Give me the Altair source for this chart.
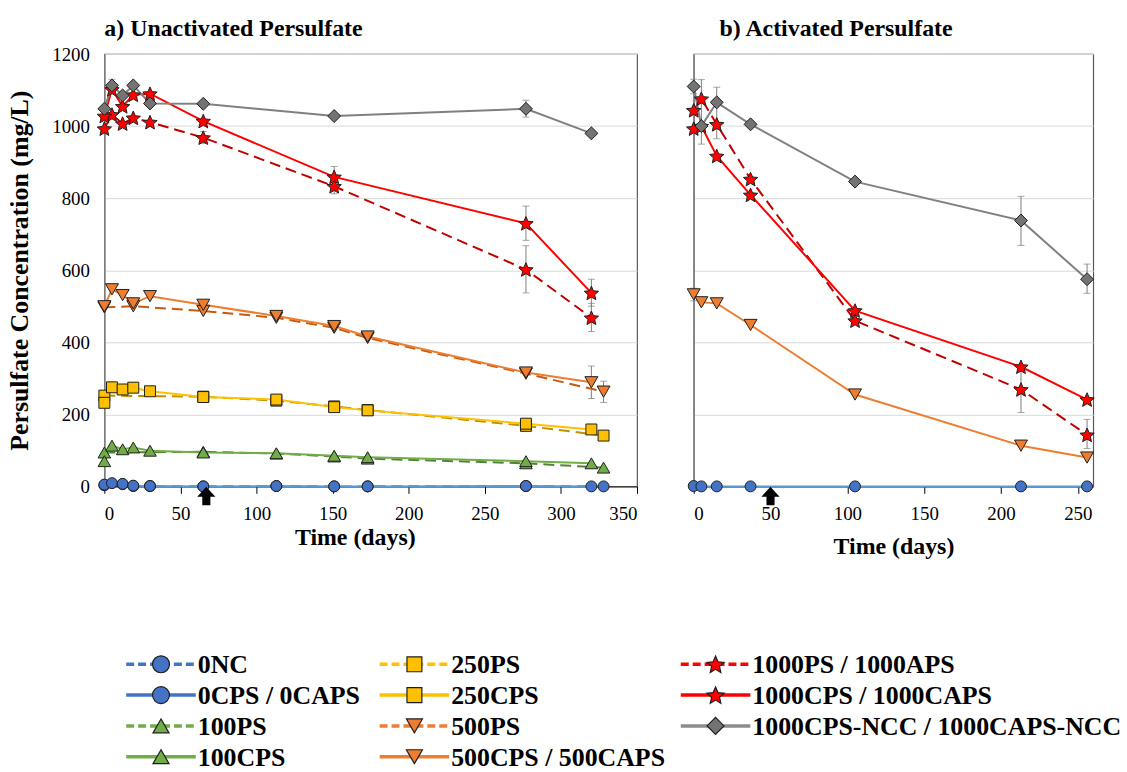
import math
import altair as alt
import pandas as pd

SERIF = "Liberation Serif"

# ---------------------------------------------------------------------------
# Panel a - unactivated persulfate: concentration (mg/L) vs time (days)
# ---------------------------------------------------------------------------
A_0NC_DAYS = [0, 12, 19, 30, 65, 113, 151, 173, 277, 328]
A_0NC_MGL = [3, 6, 1, 1, 0, 1, 0, 0, 1, 0]
A_0CPS_DAYS = [0, 5, 12, 19, 30, 65, 113, 151, 173, 277, 320]
A_0CPS_MGL = [5, 9, 7, 2, 1, 0, 1, 0, 0, 1, 0]

A_100PS_DAYS = [0, 65, 113, 151, 173, 277, 328]
A_100PS_MGL = [94, 96, 91, 83, 77, 64, 52]
A_100CPS_DAYS = [0, 5, 12, 19, 30, 65, 113, 151, 173, 277, 320]
A_100CPS_MGL = [70, 113, 103, 108, 99, 94, 92, 85, 81, 70, 64]

A_250PS_DAYS = [0, 65, 113, 151, 173, 277, 328]
A_250PS_MGL = [252, 249, 238, 222, 212, 168, 141]
A_250CPS_DAYS = [0, 5, 12, 19, 30, 65, 113, 151, 173, 277, 320]
A_250CPS_MGL = [232, 275, 269, 274, 264, 248, 241, 220, 211, 174, 158]

A_500PS_DAYS = [0, 19, 65, 113, 151, 173, 277, 328]
A_500PS_MGL = [497, 500, 487, 468, 440, 412, 313, 263]
A_500CPS_DAYS = [0, 5, 12, 19, 30, 65, 113, 151, 173, 277, 320]
A_500CPS_MGL = [500, 547, 531, 508, 528, 504, 473, 445, 416, 316, 289]

A_1000PS_DAYS = [0, 5, 12, 19, 30, 65, 151, 277, 320]
A_1000PS_MGL = [993, 1032, 1007, 1023, 1011, 968, 833, 602, 468]
A_1000CPS_DAYS = [0, 5, 12, 19, 30, 65, 151, 277, 320]
A_1000CPS_MGL = [1028, 1102, 1055, 1087, 1090, 1014, 859, 730, 537]

A_NCC_DAYS = [0, 5, 12, 19, 30, 65, 151, 277, 320]
A_NCC_MGL = [1048, 1113, 1085, 1113, 1063, 1062, 1028, 1048, 980]

# error bars (series, day, low, high)
A_ERR_SERIES = ["NCC", "NCC", "1000PS", "1000CPS", "1000PS", "1000PS", "1000CPS",
                "1000CPS", "1000PS", "500CPS", "500PS"]
A_ERR_DAYS = [5, 277, 65, 151, 151, 277, 277, 320, 320, 320, 328]
A_ERR_LO = [1098, 1025, 952, 845, 812, 537, 683, 500, 430, 244, 233]
A_ERR_HI = [1130, 1072, 985, 888, 852, 668, 778, 575, 508, 334, 292]

A_ARROW_DAY = 67

# ---------------------------------------------------------------------------
# Panel b - activated persulfate
# ---------------------------------------------------------------------------
B_DAYS = [0, 5, 15, 37, 105, 213, 256]
B_0CAPS_MGL = [1, 0, 0, 0, 0, 0, 0]
B_500CAPS_MGL = [533, 511, 508, 448, 255, 113, 80]
B_1000APS_MGL = [1044, 1076, 1005, 853, 460, 269, 143]
B_1000CAPS_MGL = [993, 1000, 917, 809, 488, 332, 241]
B_NCC_MGL = [1110, 1000, 1066, 1005, 846, 738, 575]

B_ERR_SERIES = ["NCC", "NCC", "NCC", "NCC", "NCC", "1000APS", "1000APS", "500CAPS"]
B_ERR_DAYS = [0, 5, 15, 213, 256, 213, 256, 0]
B_ERR_LO = [1090, 950, 965, 669, 536, 205, 105, 515]
B_ERR_HI = [1130, 1129, 1108, 805, 617, 333, 186, 550]

B_ARROW_DAY = 50

# ---------------------------------------------------------------------------
# Legend entries (column-major order)
# ---------------------------------------------------------------------------
LEGEND_LABELS = ["0NC", "0CPS / 0CAPS", "100PS", "100CPS",
                 "250PS", "250CPS", "500PS", "500CPS / 500CAPS",
                 "1000PS / 1000APS", "1000CPS / 1000CAPS", "1000CPS-NCC / 1000CAPS-NCC"]


def star_path(inner=0.46):
    pts = []
    for k in range(10):
        ang = math.radians(-90 + 36 * k)
        r = 1.0 if k % 2 == 0 else inner
        pts.append((r * math.cos(ang), r * math.sin(ang) + 0.095))
    return "M" + "L".join(f"{x:.3f},{y:.3f}" for x, y in pts) + "Z"


STAR = star_path()
ARROW = "M0,-1L0.85,-0.08L0.38,-0.08L0.38,1L-0.38,1L-0.38,-0.08L-0.85,-0.08Z"

BLUE, GREEN, GOLD, ORANGE, RED, GREY = "#4472C4", "#70AD47", "#FFC000", "#ED7D31", "#FF0000", "#7F7F7F"
DASH = [11, 6]

# style per series: line colour, dash, marker shape, marker fill, panel marker size
STYLE = {
    "0NC":      (BLUE, DASH, "circle", BLUE, 121),
    "0CPS":     ("#5B9BD5", None, "circle", BLUE, 121),
    "100PS":    ("#548235", DASH, "triangle-up", GREEN, 160),
    "100CPS":   (GREEN, None, "triangle-up", GREEN, 160),
    "250PS":    ("#BF9000", DASH, "square", GOLD, 121),
    "250CPS":   (GOLD, None, "square", GOLD, 121),
    "500PS":    ("#C55A11", DASH, "triangle-down", ORANGE, 170),
    "500CPS":   (ORANGE, None, "triangle-down", ORANGE, 170),
    "1000PS":   ("#C00000", DASH, STAR, RED, 230),
    "1000CPS":  (RED, None, STAR, RED, 230),
    "NCC":      ("#808080", None, "diamond", "#737373", 170),
    "0CAPS":    ("#5B9BD5", None, "circle", BLUE, 121),
    "500CAPS":  (ORANGE, None, "triangle-down", ORANGE, 170),
    "1000APS":  ("#C00000", DASH, STAR, RED, 230),
    "1000CAPS": (RED, None, STAR, RED, 230),
}

A_SERIES = [
    ("0NC", A_0NC_DAYS, A_0NC_MGL), ("0CPS", A_0CPS_DAYS, A_0CPS_MGL),
    ("100PS", A_100PS_DAYS, A_100PS_MGL), ("100CPS", A_100CPS_DAYS, A_100CPS_MGL),
    ("250PS", A_250PS_DAYS, A_250PS_MGL), ("250CPS", A_250CPS_DAYS, A_250CPS_MGL),
    ("500PS", A_500PS_DAYS, A_500PS_MGL), ("500CPS", A_500CPS_DAYS, A_500CPS_MGL),
    ("1000PS", A_1000PS_DAYS, A_1000PS_MGL), ("1000CPS", A_1000CPS_DAYS, A_1000CPS_MGL),
    ("NCC", A_NCC_DAYS, A_NCC_MGL),
]
B_SERIES = [
    ("0CAPS", B_DAYS, B_0CAPS_MGL), ("500CAPS", B_DAYS, B_500CAPS_MGL),
    ("1000APS", B_DAYS, B_1000APS_MGL), ("1000CAPS", B_DAYS, B_1000CAPS_MGL),
    ("NCC", B_DAYS, B_NCC_MGL),
]

Y_SCALE = alt.Scale(domain=[0, 1200], nice=False, zero=False)
AXIS_TEXT = dict(labelFont=SERIF, labelFontSize=19, labelColor="black",
                 titleFont=SERIF, titleFontWeight="bold", titleColor="black")


def panel(series, err_series, err_days, err_lo, err_hi, arrow_day, x_max, x_ticks,
          title, title_dx, title_offset, width, with_y_labels, x_title_x, x_title_pad):
    x_scale = alt.Scale(domain=[0, x_max], nice=False, zero=False)
    x_axis = alt.Axis(values=x_ticks, format="d", title="Time (days)", grid=False,
                      domainColor="black", domainWidth=1, tickColor="black", tickSize=7,
                      labelPadding=11, titleX=x_title_x, titlePadding=x_title_pad,
                      titleFontSize=24, **AXIS_TEXT)
    if with_y_labels:
        y_axis = alt.Axis(values=list(range(0, 1201, 200)), format="d",
                          title="Persulfate Concentration (mg/L)", titleFontSize=26,
                          grid=True, gridColor="#D9D9D9", ticks=False, domainColor="#808080",
                          domainWidth=1.5, labelPadding=15, titlePadding=19, **AXIS_TEXT)
    else:
        y_axis = alt.Axis(values=list(range(0, 1201, 200)), title=None, labels=False,
                          grid=True, gridColor="#D9D9D9", ticks=False, domainColor="#808080",
                          domainWidth=1.5)
    x_enc = alt.X("day:Q", scale=x_scale, axis=x_axis)
    y_enc = alt.Y("mgl:Q", scale=Y_SCALE, axis=y_axis)

    line_layers, point_layers = [], []
    for name, days, vals in series:
        col, dash, shape, fill, size = STYLE[name]
        df = pd.DataFrame({"day": days, "mgl": vals})
        line_kw = dict(color=col, strokeWidth=2)
        if dash:
            line_kw["strokeDash"] = dash
        line_layers.append(alt.Chart(df).mark_line(**line_kw).encode(x=x_enc, y=y_enc))
        point_layers.append(
            alt.Chart(df).mark_point(shape=shape, filled=True, fill=fill, stroke="#1F1F1F",
                                     strokeWidth=1, size=size, opacity=1)
            .encode(x=x_enc, y=y_enc))

    err_df = pd.DataFrame({"series": err_series, "day": err_days, "lo": err_lo, "hi": err_hi})
    err_layer = alt.Chart(err_df).mark_errorbar(
        ticks=alt.MarkConfig(size=7, color="#7F7F7F"), color="#7F7F7F", thickness=1
    ).encode(x=x_enc, y=alt.Y("lo:Q", scale=Y_SCALE, axis=y_axis), y2="hi:Q")

    arrow_layer = alt.Chart(pd.DataFrame({"day": [arrow_day]})).mark_point(
        shape=ARROW, filled=True, fill="black", stroke="black", size=260, opacity=1, yOffset=10
    ).encode(x=x_enc, y=alt.datum(0, scale=Y_SCALE))

    return alt.layer(*line_layers, err_layer, *point_layers, arrow_layer).properties(
        width=width, height=435,
        title=alt.TitleParams(title, anchor="start", frame="group", dx=title_dx, font=SERIF,
                              fontSize=24, fontWeight="bold", color="black",
                              offset=title_offset),
        view=alt.ViewBackground(stroke="#595959", strokeWidth=1.2),
    )


panel_a = panel(A_SERIES, A_ERR_SERIES, A_ERR_DAYS, A_ERR_LO, A_ERR_HI, A_ARROW_DAY,
                350, list(range(0, 351, 50)), "a) Unactivated Persulfate", 0, 4, 536, True,
                252, 2)
panel_b = panel(B_SERIES, B_ERR_SERIES, B_ERR_DAYS, B_ERR_LO, B_ERR_HI, B_ARROW_DAY,
                260, list(range(0, 251, 50)), "b) Activated Persulfate", 26, 13, 402, False,
                201, 12)

# ---------------------------------------------------------------------------
# Legend drawn from marks: line sample + marker + bold label, three columns
# ---------------------------------------------------------------------------
LEG_KEYS = ["0NC", "0CPS", "100PS", "100CPS", "250PS", "250CPS", "500PS", "500CPS",
            "1000PS", "1000CPS", "NCC"]
LEG_COLOURS = [BLUE, BLUE, GREEN, GREEN, GOLD, GOLD, ORANGE, ORANGE, RED, RED, "#8C8C8C"]
LEG_SIZES = {"circle": 290, "square": 225, "triangle-up": 260, "triangle-down": 260,
             STAR: 330, "diamond": 290}
COL_CENTRE = [57, 312, 615]   # marker centre of each legend column, px from panel a left
rows = []
for i, (key, label, colour) in enumerate(zip(LEG_KEYS, LEGEND_LABELS, LEG_COLOURS)):
    col, row = divmod(i, 4)
    c = COL_CENTRE[col]
    _, dash, shape, fill, _ = STYLE[key]
    rows.append({"key": key, "label": label, "row": row, "cx": c, "x1": c - 35, "x2": c + 35,
                 "tx": c + 37, "dashed": "dashed" if dash else "solid",
                 "size": LEG_SIZES[shape]})
leg_df = pd.DataFrame(rows)

LX = alt.Scale(domain=[0, 536], range=[0, 536])
LY = alt.Scale(domain=[0, 3], range=[17, 110])

leg_lines = alt.Chart(leg_df).mark_rule(strokeWidth=3.5).encode(
    x=alt.X("x1:Q", scale=LX, axis=None), x2="x2:Q",
    y=alt.Y("row:Q", scale=LY, axis=None),
    color=alt.Color("key:N", scale=alt.Scale(domain=LEG_KEYS, range=LEG_COLOURS), legend=None),
    strokeDash=alt.StrokeDash("dashed:N", scale=alt.Scale(domain=["dashed", "solid"],
                                                          range=[[8, 4], [1, 0]]), legend=None),
)
leg_points = alt.Chart(leg_df).mark_point(filled=True, stroke="#1F1F1F", strokeWidth=1.2,
                                          opacity=1).encode(
    x=alt.X("cx:Q", scale=LX, axis=None),
    y=alt.Y("row:Q", scale=LY, axis=None),
    fill=alt.Fill("key:N", scale=alt.Scale(domain=LEG_KEYS, range=[STYLE[k][3] for k in LEG_KEYS]),
                  legend=None),
    shape=alt.Shape("key:N", scale=alt.Scale(domain=LEG_KEYS, range=[STYLE[k][2] for k in LEG_KEYS]),
                    legend=None),
    size=alt.Size("size:Q", scale=None, legend=None),
)
leg_text = alt.Chart(leg_df).mark_text(align="left", baseline="middle", font=SERIF, fontSize=26,
                                       fontWeight="bold", color="black", dy=1).encode(
    x=alt.X("tx:Q", scale=LX, axis=None),
    y=alt.Y("row:Q", scale=LY, axis=None),
    text="label:N",
)
legend = alt.layer(leg_lines, leg_points, leg_text).properties(
    width=536, height=110, view=alt.ViewBackground(stroke="transparent"))

chart = alt.concat(panel_a, panel_b, legend, columns=2, bounds="flush",
                   spacing={"row": 162, "column": 57}).resolve_scale(
    color="independent", fill="independent", shape="independent"
).properties(background="white",
             padding={"left": 6, "top": 14, "right": 5, "bottom": 0})

chart.save("out.html", embed_options={"renderer": "svg", "actions": False})
